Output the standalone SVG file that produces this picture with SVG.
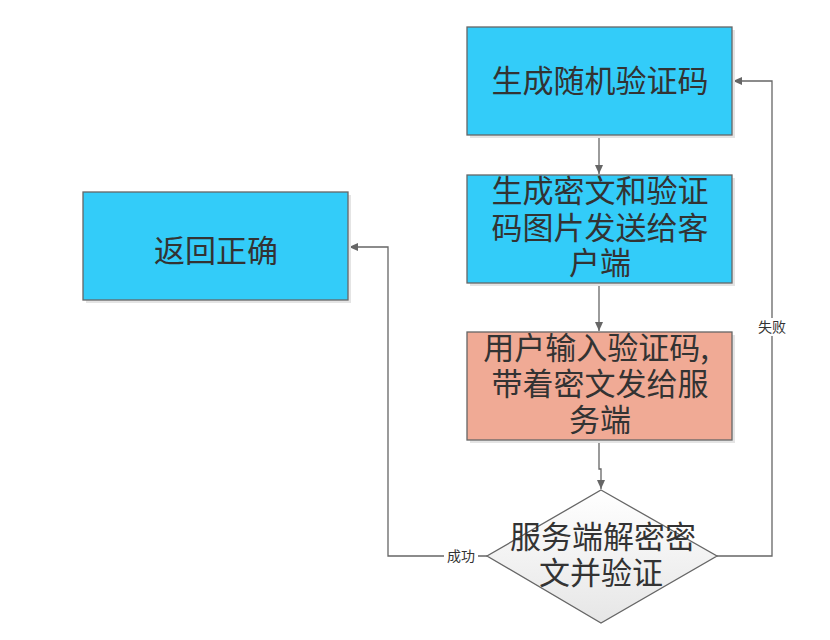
<svg xmlns="http://www.w3.org/2000/svg" width="830" height="640" viewBox="0 0 830 640">
<defs>
<linearGradient id="dg" x1="0" y1="0" x2="0" y2="1"><stop offset="0" stop-color="#ffffff"/><stop offset="1" stop-color="#e6e6e6"/></linearGradient>
<marker id="ah" markerWidth="10" markerHeight="10" refX="9" refY="5" orient="auto" markerUnits="userSpaceOnUse"><path d="M0,1 L9,5 L0,9 Z" fill="#666"/></marker>
<style>
.box{stroke:#666;stroke-width:1.3}
.sh{fill:#e4e4e4}
.t{font-family:"Noto Sans CJK SC","Noto Sans",sans-serif;font-size:31px;fill:#333;text-anchor:middle}
.lb{font-family:"Noto Sans CJK SC","Noto Sans",sans-serif;font-size:14px;fill:#333;text-anchor:middle}
.c{fill:none;stroke:#666;stroke-width:1.3}
</style>
</defs>
<rect width="830" height="640" fill="#fff"/>
<g id="connectors">
<path class="c" d="M599,135 V174" marker-end="url(#ah)"/>
<path class="c" d="M599,283 V331" marker-end="url(#ah)"/>
<path class="c" d="M599,440 V469 H601 V489" marker-end="url(#ah)"/>
<path class="c" d="M717,556 H772 V81 H733" marker-end="url(#ah)"/>
<path class="c" d="M487,556 H388 V247 H349" marker-end="url(#ah)"/>
<rect x="756" y="318" width="32" height="18" fill="#fff"/>
<text class="lb" x="772" y="332">失败</text>
<rect x="444" y="547" width="34" height="18" fill="#fff"/>
<text class="lb" x="461" y="561">成功</text>
</g>
<g id="n1">
<rect class="sh" x="470" y="30" width="265" height="108"/>
<rect class="box" x="467" y="27" width="265" height="108" fill="#33ccf9"/>
<text class="t" x="600" y="92">生成随机验证码</text>
</g>
<g id="n2">
<rect class="sh" x="470" y="178" width="265" height="108"/>
<rect class="box" x="467" y="175" width="265" height="108" fill="#33ccf9"/>
<text class="t" x="600" y="202">生成密文和验证</text>
<text class="t" x="600" y="239">码图片发送给客</text>
<text class="t" x="600" y="274">户端</text>
</g>
<g id="n3">
<rect class="sh" x="470" y="335" width="265" height="108"/>
<rect class="box" x="467" y="332" width="265" height="108" fill="#f0aa95"/>
<text class="t" x="596" y="359">用户输入验证码,</text>
<text class="t" x="600" y="395">带着密文发给服</text>
<text class="t" x="600" y="431">务端</text>
</g>
<g id="n4">
<rect class="sh" x="86" y="195" width="265" height="108"/>
<rect class="box" x="83" y="192" width="265" height="108" fill="#33ccf9"/>
<text class="t" x="216" y="262">返回正确</text>
</g>
<g id="n5">
<path class="box" d="M601,490 L717,556 L601,623 L487,556 Z" fill="url(#dg)" stroke="#888"/>
<text class="t" x="603" y="548">服务端解密密</text>
<text class="t" x="601" y="584">文并验证</text>
</g>
</svg>
